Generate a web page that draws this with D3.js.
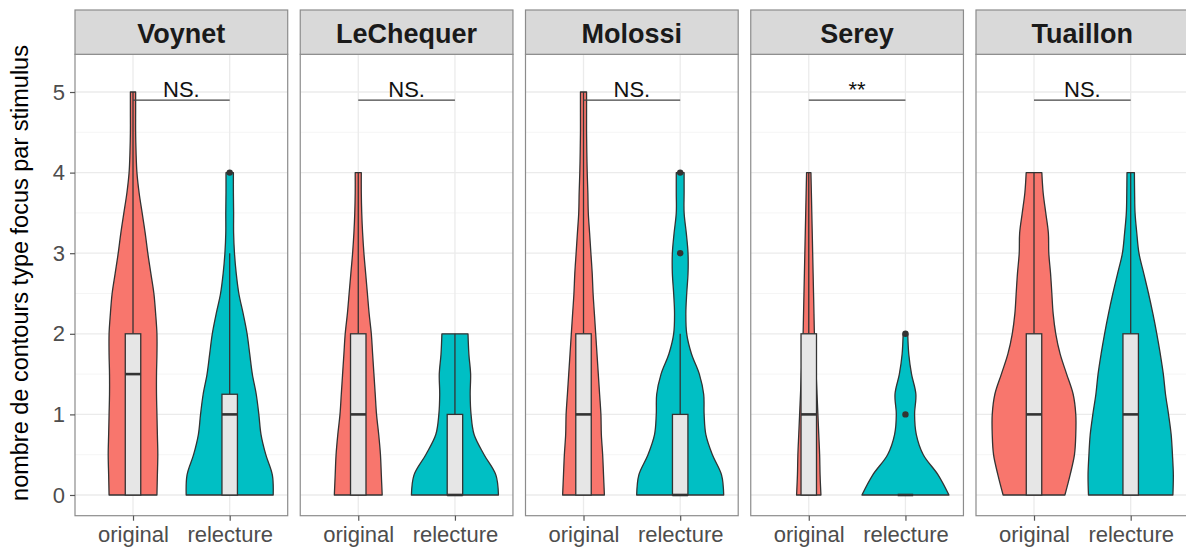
<!DOCTYPE html>
<html><head><meta charset="utf-8">
<script src="https://cdn.jsdelivr.net/npm/d3@7"></script>
<style>body{margin:0;background:#fff;} svg{display:block;font-family:"Liberation Sans",Arial,Helvetica,sans-serif;}</style>
</head><body><svg id="c" width="1186" height="550"></svg>
<script>
const stimuli = ["Voynet","LeChequer","Molossi","Serey","Tuaillon"];
const conditions = ["original","relecture"];
const yTicks = [0,1,2,3,4,5];
const yMinorTicks = [0.5,1.5,2.5,3.5,4.5];
const signifLabels = ["NS.","NS.","NS.","**","NS."];
const signifY = 4.9;
const densityStep = 0.25;
// relative violin densities (1 = widest) at y = 0, 0.25, 0.5, ...
const violinOriginal = [
  [0.55,0.56,0.57,0.56,0.55,0.54,0.54,0.55,0.55,0.52,0.48,0.41,0.34,0.28,0.21,0.14,0.09,0.07,0.06,0.06,0.06],
  [0.55,0.53,0.51,0.47,0.42,0.39,0.36,0.33,0.30,0.25,0.21,0.17,0.13,0.10,0.08,0.07,0.07],
  [0.48,0.46,0.44,0.41,0.40,0.37,0.34,0.31,0.28,0.25,0.22,0.20,0.17,0.14,0.11,0.10,0.085,0.076,0.07,0.07,0.07],
  [0.28,0.26,0.25,0.23,0.21,0.19,0.17,0.15,0.13,0.12,0.11,0.10,0.09,0.08,0.07,0.06,0.05],
  [0.71,0.83,0.93,0.96,0.96,0.90,0.75,0.60,0.50,0.44,0.41,0.38,0.34,0.33,0.27,0.21,0.18]
];
const violinRelecture = [
  [1.0,0.98,0.83,0.72,0.67,0.61,0.52,0.46,0.40,0.31,0.21,0.15,0.11,0.09,0.09,0.085,0.085],
  [1.0,0.94,0.67,0.44,0.37,0.35,0.36,0.32,0.30],
  [1.0,0.95,0.74,0.59,0.55,0.54,0.44,0.26,0.15,0.13,0.15,0.18,0.18,0.14,0.09,0.09,0.09],
  [1.0,0.75,0.41,0.25,0.21,0.24,0.14,0.076,0.053],
  [0.97,0.98,0.96,0.93,0.87,0.80,0.75,0.68,0.60,0.51,0.41,0.30,0.19,0.14,0.10,0.09,0.085]
];
// box stats: [lower whisker, q1, median, q3, upper whisker]
const boxOriginal = [[0,0,1.5,2,5],[0,0,1,2,4],[0,0,1,2,5],[0,0,1,2,4],[0,0,1,2,4]];
const boxRelecture = [[0,0,1,1.25,3],[0,0,0,1,2],[0,0,0,1,2],[0,0,0,0,0],[0,0,1,2,4]];
const outliersOriginal = [[],[],[],[],[]];
const outliersRelecture = [[4],[],[3,4],[1,2],[]];

const colors = {original:"#F8766D", relecture:"#00BFC4"};
const svg = d3.select("#c");
const stripTop = 10, panelTop = 54.3, panelBottom = 515.7;
const facet = d3.scaleBand().domain(stimuli).range([75, 1188.7]).paddingInner(0.0557).paddingOuter(0);
const bw = facet.bandwidth();
const y = d3.scaleLinear().domain([-0.257, 5.468]).range([panelBottom, panelTop]);
const x = d3.scalePoint().domain(conditions).range([0, bw]).padding(0.6);
const w = d3.scaleLinear().domain([0,1]).range([0, 0.45*x.step()]);
const boxHalf = 0.08*x.step();
const outline = "#333333";

const violinData = {original: violinOriginal, relecture: violinRelecture};
const boxData = {original: boxOriginal, relecture: boxRelecture};
const outData = {original: outliersOriginal, relecture: outliersRelecture};

stimuli.forEach((s, i) => {
  const g = svg.append("g").attr("transform", `translate(${facet(s)},0)`);
  g.append("rect").attr("x",0).attr("y",panelTop).attr("width",bw).attr("height",panelBottom-panelTop).attr("fill","#fff");
  g.selectAll(".minor").data(yMinorTicks).join("line")
    .attr("x1",0).attr("x2",bw).attr("y1",d=>y(d)).attr("y2",d=>y(d))
    .attr("stroke","#f2f2f2").attr("stroke-width",0.8);
  g.selectAll(".major").data(yTicks).join("line")
    .attr("x1",0).attr("x2",bw).attr("y1",d=>y(d)).attr("y2",d=>y(d))
    .attr("stroke","#ebebeb").attr("stroke-width",1.3);
  g.selectAll(".vgrid").data(conditions).join("line")
    .attr("x1",d=>x(d)).attr("x2",d=>x(d)).attr("y1",panelTop).attr("y2",panelBottom)
    .attr("stroke","#ebebeb").attr("stroke-width",1.3);

  conditions.forEach(c => {
    const cx = x(c);
    const dens = violinData[c][i].map((d,k)=>({v:k*densityStep, d}));
    const area = d3.area()
      .y(d=>y(d.v)).x0(d=>cx - w(d.d)).x1(d=>cx + w(d.d))
      .curve(d3.curveCatmullRom.alpha(0.5));
    g.append("path").attr("d", area(dens))
      .attr("fill", colors[c]).attr("stroke", outline).attr("stroke-width",1.3).attr("stroke-linejoin","round");
    const [lo,q1,med,q3,hi] = boxData[c][i];
    g.append("line").attr("x1",cx).attr("x2",cx).attr("y1",y(q3)).attr("y2",y(hi)).attr("stroke",outline).attr("stroke-width",1.3);
    g.append("line").attr("x1",cx).attr("x2",cx).attr("y1",y(lo)).attr("y2",y(q1)).attr("stroke",outline).attr("stroke-width",1.3);
    g.append("rect").attr("x",cx-boxHalf).attr("width",2*boxHalf)
      .attr("y",y(q3)).attr("height",Math.max(0,y(q1)-y(q3)))
      .attr("fill","#e6e6e6").attr("stroke",outline).attr("stroke-width",1.3);
    g.append("line").attr("x1",cx-boxHalf).attr("x2",cx+boxHalf).attr("y1",y(med)).attr("y2",y(med))
      .attr("stroke",outline).attr("stroke-width",2.6);
    g.selectAll(null).data(outData[c][i]).join("circle")
      .attr("cx",cx).attr("cy",d=>y(d)).attr("r",3.2).attr("fill",outline);
  });

  g.append("line").attr("x1",x("original")).attr("x2",x("relecture")).attr("y1",y(signifY)).attr("y2",y(signifY))
    .attr("stroke","#444").attr("stroke-width",1.4);
  g.append("text").attr("x",(x("original")+x("relecture"))/2).attr("y",y(signifY)-3)
    .attr("text-anchor","middle").attr("font-size",22).attr("fill","#111").text(signifLabels[i]);

  g.append("rect").attr("x",0).attr("y",panelTop).attr("width",bw).attr("height",panelBottom-panelTop)
    .attr("fill","none").attr("stroke","#8c8c8c").attr("stroke-width",1.2);
  g.append("rect").attr("x",0).attr("y",stripTop).attr("width",bw).attr("height",panelTop-stripTop)
    .attr("fill","#d9d9d9").attr("stroke","#8c8c8c").attr("stroke-width",1.2);
  g.append("text").attr("x",bw/2).attr("y",43).attr("text-anchor","middle")
    .attr("font-size",27).attr("font-weight","bold").attr("fill","#1a1a1a").text(s);

  const xa = g.append("g").attr("transform",`translate(0,${panelBottom})`)
    .call(d3.axisBottom(x).tickSize(5).tickPadding(6));
  xa.select(".domain").remove();
  xa.selectAll(".tick line").attr("stroke","#555").attr("stroke-width",1.2);
  xa.selectAll(".tick text").attr("font-size",22).attr("fill","#4d4d4d")
    .attr("font-family","'Liberation Sans',Arial,sans-serif");

  if (i === 0) {
    const ya = g.append("g").call(d3.axisLeft(y).tickValues(yTicks).tickFormat(d3.format("d")).tickSize(5).tickPadding(5));
    ya.select(".domain").remove();
    ya.selectAll(".tick line").attr("stroke","#555").attr("stroke-width",1.2);
    ya.selectAll(".tick text").attr("font-size",22).attr("fill","#4d4d4d")
      .attr("font-family","'Liberation Sans',Arial,sans-serif");
  }
});

svg.append("text").attr("transform","translate(28,273) rotate(-90)").attr("text-anchor","middle")
  .attr("font-size",23.5).attr("fill","#000").text("nombre de contours type focus par stimulus");
</script></body></html>
